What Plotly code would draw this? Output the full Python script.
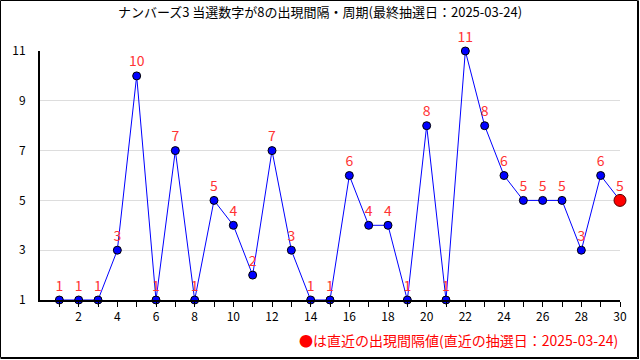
import plotly.graph_objects as go

draws = list(range(1, 31))
intervals = [1, 1, 1, 3, 10, 1, 7, 1, 5, 4, 2, 7, 3, 1, 1, 6, 4, 4, 1, 8, 1, 11, 8, 6, 5, 5, 5, 3, 6, 5]
title_text = "ナンバーズ3 当選数字が8の出現間隔・周期(最終抽選日：2025-03-24)"
note_text = "●は直近の出現間隔値(直近の抽選日：2025-03-24)"
y_ticks = [1, 3, 5, 7, 9, 11]
x_ticks = draws
x_ticklabels = [str(v) if v % 2 == 0 else "" for v in draws]

FONT = "Noto Sans CJK JP"

# plot area in pixels: x 40..620, y 51..300
def px(xp):
    return (xp - 40) / 580

def py(yp):
    return (300 - yp) / 249

fig = go.Figure()
fig.add_trace(go.Scatter(
    x=draws, y=intervals, mode="lines+markers+text",
    line=dict(color="#0000ff", width=1),
    marker=dict(size=8, color="#0000ff", line=dict(color="#000000", width=1)),
    text=[str(v) for v in intervals], textposition="top center",
    textfont=dict(color="#ff3333", size=14, family=FONT),
    cliponaxis=False, hoverinfo="skip",
))
fig.add_trace(go.Scatter(
    x=[draws[-1]], y=[intervals[-1]], mode="markers",
    marker=dict(size=12, color="#ff0000", line=dict(color="#550000", width=1)),
    cliponaxis=False, hoverinfo="skip",
))

fig.update_layout(
    width=640, height=360, showlegend=False,
    paper_bgcolor="white", plot_bgcolor="white",
    margin=dict(l=40, r=20, t=51, b=60),
    font=dict(family=FONT, size=12, color="#000000"),
    title=dict(text=title_text, x=0.5, xanchor="center", y=0.965, yanchor="middle",
               font=dict(size=13, family=FONT, color="#000000")),
    xaxis=dict(range=[0, 30], tickmode="array", tickvals=x_ticks, ticktext=x_ticklabels,
               ticks="outside", ticklen=5, tickcolor="#000000", showgrid=False,
               showline=True, linecolor="#000000", linewidth=2, zeroline=False,
               tickfont=dict(size=12)),
    yaxis=dict(range=[1, 11], tickmode="array", tickvals=y_ticks,
               showgrid=True, gridcolor="#dddddd", gridwidth=1,
               showline=True, linecolor="#000000", linewidth=2, zeroline=False,
               ticks="", ticklabelstandoff=10, tickfont=dict(size=12)),
    annotations=[dict(text=note_text, xref="paper", yref="paper", x=1.0, y=py(340),
                      xanchor="right", yanchor="middle", showarrow=False,
                      font=dict(color="#ff0000", size=14, family=FONT))],
    shapes=[
        dict(type="rect", xref="paper", yref="paper",
             x0=px(0.5), x1=px(637.5), y0=py(357.5), y1=py(0.5),
             line=dict(color="#000000", width=1)),
        dict(type="line", xref="paper", yref="paper",
             x0=px(638.5), x1=px(638.5), y0=py(359), y1=py(0.5),
             line=dict(color="#000000", width=1)),
        dict(type="line", xref="paper", yref="paper",
             x0=px(0.5), x1=px(639), y0=py(358.5), y1=py(358.5),
             line=dict(color="#000000", width=1)),
    ],
)

fig.write_html("out.html", config={"displayModeBar": False},
               post_script="document.body.style.margin='0';document.body.style.overflow='hidden';")
